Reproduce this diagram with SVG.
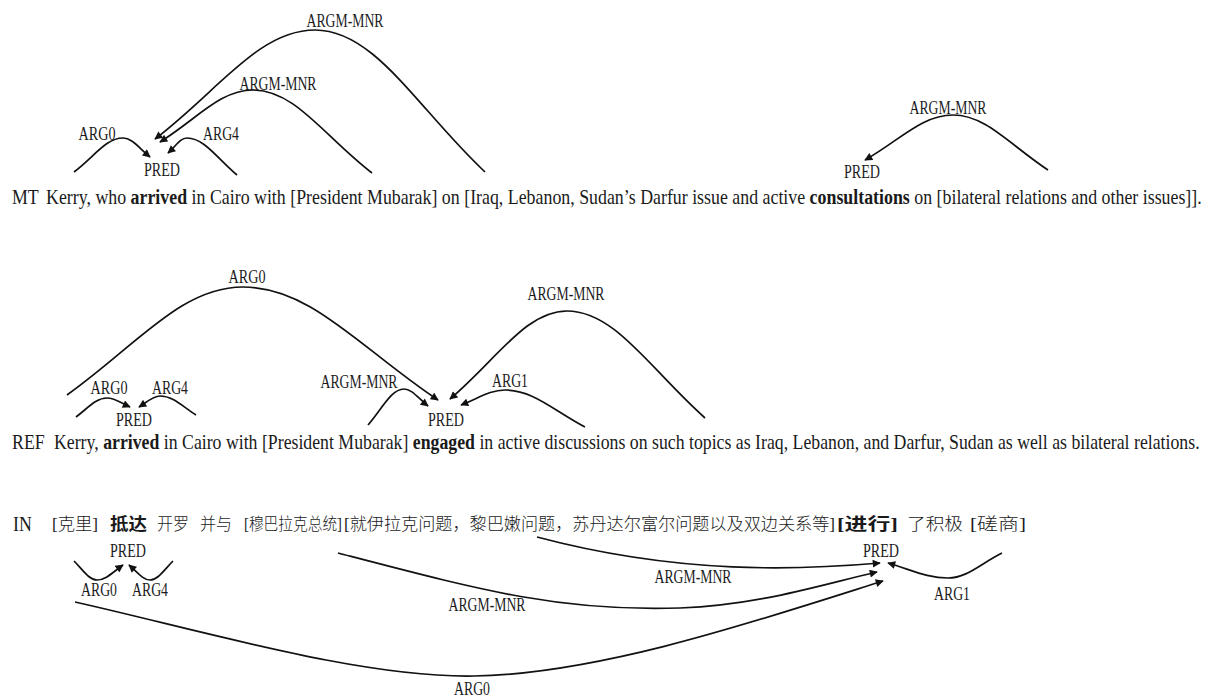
<svg xmlns="http://www.w3.org/2000/svg" width="1213" height="699" viewBox="0 0 1213 699">
<style>
.lbl{font-family:"Liberation Serif","DejaVu Serif",serif;font-size:18.5px;fill:#1a1a1a;text-anchor:middle}
.sent{font-family:"Liberation Serif","DejaVu Serif",serif;font-size:20.5px;fill:#1a1a1a}
.zh{font-family:"Liberation Serif","Noto Sans CJK SC",sans-serif;font-size:16.5px;font-weight:300;fill:#1a1a1a}
.b{font-weight:bold}
.arc{fill:none;stroke:#111;stroke-width:1.7;marker-end:url(#ah)}
</style>
<defs>
<marker id="ah" viewBox="0 0 10 10" refX="9" refY="5" markerWidth="9" markerHeight="8" orient="auto" markerUnits="userSpaceOnUse">
<path d="M0,0 L10,5 L0,10 z" fill="#111"/>
</marker>
</defs>
<rect width="1213" height="699" fill="#fff"/>

<g id="connectors">
<path class="arc" d="M485,172 C417,108 375,30 315,30 C259,30 219,90 155,139"/>
<path class="arc" d="M372,173 C324,136 295,90 253,90 C220,90 197,119 160,142"/>
<path class="arc" d="M74,172 C94,157 106,138 123,138 C132,138 139,148 150,157"/>
<path class="arc" d="M237,175 C217,158 204,138 187,138 C180,138 176,146 168,153"/>
<path class="arc" d="M1048,170 C1010,145 986,115 953,115 C922,115 900,140 865,160"/>
<path class="arc" d="M67,395 C137,345 181,287 243,287 C311,287 360,348 438,400"/>
<path class="arc" d="M705,418 C650,369 615,311 567,311 C526,311 497,359 450,399"/>
<path class="arc" d="M368,425 C382,409 391,389 404,389 C412,389 418,398 428,406"/>
<path class="arc" d="M585,427 C553,410 533,390 505,390 C490,390 479,398 461,405"/>
<path class="arc" d="M76,417 C88,408 96,398 107,398 C115,398 121,403 130,407"/>
<path class="arc" d="M196,415 C182,406 173,396 160,396 C153,396 147,402 139,407"/>
<path class="arc" d="M74,561 C83,570 89,580 97,580 C106,580 113,572 123,565"/>
<path class="arc" d="M173,561 C164,570 158,580 150,580 C143,580 137,572 129,565"/>
<path class="arc" d="M537,537 C680,575 800,570 880,563"/>
<path class="arc" d="M338,553 C480,590 560,612 680,608 C760,605 820,585 877,572"/>
<path class="arc" d="M75,602 C200,630 360,678 474,676 C600,674 760,620 883,581"/>
<path class="arc" d="M1002,553 C980,564 967,578 948,578 C927,578 912,570 888,563"/>
</g>

<g id="mt-argm-mnr-1"><text class="lbl" x="345" y="27" textLength="77" lengthAdjust="spacingAndGlyphs">ARGM-MNR</text></g>
<g id="mt-argm-mnr-2"><text class="lbl" x="278" y="90" textLength="77" lengthAdjust="spacingAndGlyphs">ARGM-MNR</text></g>
<g id="mt-arg0"><text class="lbl" x="97" y="140" textLength="37" lengthAdjust="spacingAndGlyphs">ARG0</text></g>
<g id="mt-arg4"><text class="lbl" x="221" y="140" textLength="36" lengthAdjust="spacingAndGlyphs">ARG4</text></g>
<g id="mt-pred-1"><text class="lbl" x="162" y="176" textLength="36" lengthAdjust="spacingAndGlyphs">PRED</text></g>
<g id="mt-argm-mnr-3"><text class="lbl" x="948" y="114" textLength="77" lengthAdjust="spacingAndGlyphs">ARGM-MNR</text></g>
<g id="mt-pred-2"><text class="lbl" x="862" y="178" textLength="36" lengthAdjust="spacingAndGlyphs">PRED</text></g>

<g id="mt-sentence">
<text class="sent" transform="translate(12,204) scale(0.87,1)">MT</text>
<text class="sent" transform="translate(46,204) scale(0.8707,1)">Kerry, who <tspan class="b">arrived</tspan> in Cairo with [President Mubarak] on [Iraq, Lebanon, Sudan’s Darfur issue and active <tspan class="b">consultations</tspan> on [bilateral relations and other issues]].</text>
</g>

<g id="ref-arg0-1"><text class="lbl" x="247" y="283" textLength="37" lengthAdjust="spacingAndGlyphs">ARG0</text></g>
<g id="ref-argm-mnr-1"><text class="lbl" x="566" y="300" textLength="77" lengthAdjust="spacingAndGlyphs">ARGM-MNR</text></g>
<g id="ref-argm-mnr-2"><text class="lbl" x="359" y="388" textLength="77" lengthAdjust="spacingAndGlyphs">ARGM-MNR</text></g>
<g id="ref-arg1"><text class="lbl" x="510" y="387" textLength="36" lengthAdjust="spacingAndGlyphs">ARG1</text></g>
<g id="ref-arg0-2"><text class="lbl" x="109" y="394" textLength="37" lengthAdjust="spacingAndGlyphs">ARG0</text></g>
<g id="ref-arg4"><text class="lbl" x="170" y="394" textLength="36" lengthAdjust="spacingAndGlyphs">ARG4</text></g>
<g id="ref-pred-1"><text class="lbl" x="134" y="426" textLength="36" lengthAdjust="spacingAndGlyphs">PRED</text></g>
<g id="ref-pred-2"><text class="lbl" x="446" y="426" textLength="36" lengthAdjust="spacingAndGlyphs">PRED</text></g>

<g id="ref-sentence">
<text class="sent" transform="translate(12,449) scale(0.87,1)">REF</text>
<text class="sent" transform="translate(54,449) scale(0.8665,1)">Kerry, <tspan class="b">arrived</tspan> in Cairo with [President Mubarak] <tspan class="b">engaged</tspan> in active discussions on such topics as Iraq, Lebanon, and Darfur, Sudan as well as bilateral relations.</text>
</g>

<g id="in-sentence">
<text class="sent" transform="translate(13,531) scale(0.87,1)">IN</text>
<text class="zh" x="52" y="530" textLength="46" lengthAdjust="spacingAndGlyphs">[克里]</text>
<text class="zh b" x="110" y="530" textLength="37" lengthAdjust="spacingAndGlyphs">抵达</text>
<text class="zh" x="157" y="530" textLength="32" lengthAdjust="spacingAndGlyphs">开罗</text>
<text class="zh" x="200" y="530" textLength="32" lengthAdjust="spacingAndGlyphs">并与</text>
<text class="zh" x="244" y="530" textLength="98" lengthAdjust="spacingAndGlyphs">[穆巴拉克总统]</text>
<text class="zh" x="344" y="530" textLength="491" lengthAdjust="spacingAndGlyphs">[就伊拉克问题，黎巴嫩问题，苏丹达尔富尔问题以及双边关系等]</text>
<text class="zh b" x="837" y="530" textLength="61" lengthAdjust="spacingAndGlyphs">[进行]</text>
<text class="zh" x="907" y="530" textLength="56" lengthAdjust="spacingAndGlyphs">了积极</text>
<text class="zh" x="970" y="530" textLength="56" lengthAdjust="spacingAndGlyphs">[磋商]</text>
</g>
<g id="in-pred-1"><text class="lbl" x="128" y="557" textLength="36" lengthAdjust="spacingAndGlyphs">PRED</text></g>
<g id="in-arg0-1"><text class="lbl" x="99" y="596" textLength="36" lengthAdjust="spacingAndGlyphs">ARG0</text></g>
<g id="in-arg4"><text class="lbl" x="150" y="596" textLength="36" lengthAdjust="spacingAndGlyphs">ARG4</text></g>
<g id="in-pred-2"><text class="lbl" x="881" y="557" textLength="36" lengthAdjust="spacingAndGlyphs">PRED</text></g>
<g id="in-argm-mnr-1"><text class="lbl" x="693" y="583" textLength="77" lengthAdjust="spacingAndGlyphs">ARGM-MNR</text></g>
<g id="in-argm-mnr-2"><text class="lbl" x="487" y="611" textLength="77" lengthAdjust="spacingAndGlyphs">ARGM-MNR</text></g>
<g id="in-arg1"><text class="lbl" x="952" y="600" textLength="36" lengthAdjust="spacingAndGlyphs">ARG1</text></g>
<g id="in-arg0-2"><text class="lbl" x="472" y="695" textLength="36" lengthAdjust="spacingAndGlyphs">ARG0</text></g>
</svg>
